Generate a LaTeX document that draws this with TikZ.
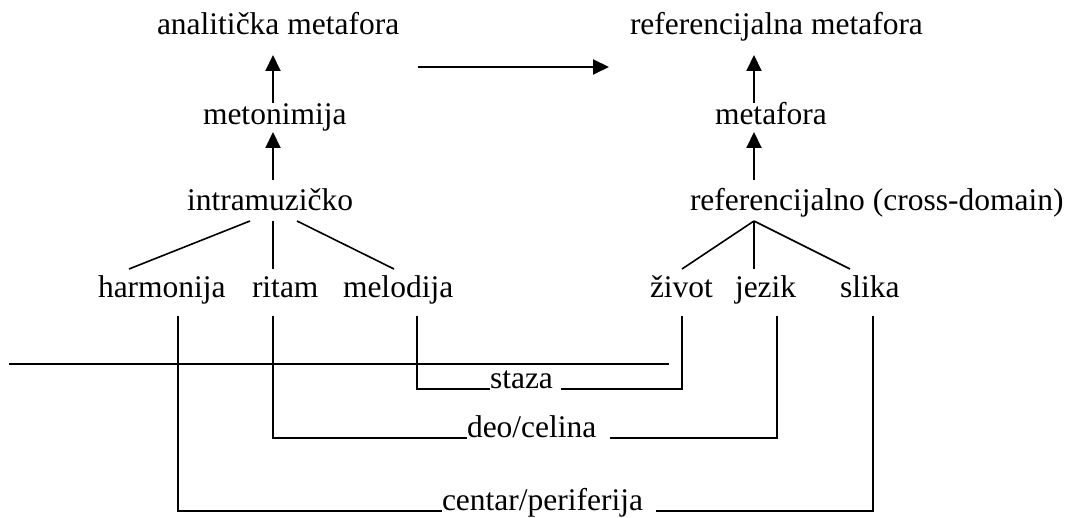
\documentclass[tikz,border=0pt]{standalone}
\usepackage{fontspec}
\setmainfont{Liberation Serif}
\usetikzlibrary{arrows.meta}
\begin{document}
\begin{tikzpicture}[x=1pt,y=-1pt,
  lbl/.style={anchor=base west,inner sep=0pt,outer sep=0pt,
    font=\fontsize{31.5}{36}\selectfont},
  arr/.style={line width=2pt,-{Triangle[length=16pt,width=15pt]}},
  branch/.style={line width=1.6pt},
  link/.style={line width=1.7pt}]
% canvas
\fill[white] (0,0) rectangle (1072,518);
\useasboundingbox (0,0) rectangle (1072,518);

% labels, row by row
\node[lbl] (am)   at (157,35)  {analitička metafora};
\node[lbl] (rm)   at (630,35)  {referencijalna metafora};
\node[lbl] (met)  at (203,125) {metonimija};
\node[lbl] (mf)   at (715,125) {metafora};
\node[lbl] (intr) at (187,211) {intramuzičko};
\node[lbl] (ref)  at (690,211) {referencijalno (cross-domain)};
\node[lbl] (harm) at (98,298)  {harmonija};
\node[lbl] (rit)  at (252,298) {ritam};
\node[lbl] (mel)  at (343,298) {melodija};
\node[lbl] (ziv)  at (650,298) {život};
\node[lbl] (jez)  at (735,298) {jezik};
\node[lbl] (sli)  at (840,298) {slika};
\node[lbl] (staza) at (490,389) {staza};
\node[lbl] (deo)   at (467,438) {deo/celina};
\node[lbl] (cp)    at (442,511) {centar/periferija};

% arrow end points
\coordinate (am-in)   at (273,55);
\coordinate (met-out) at (273,103);
\coordinate (met-in)  at (273,132);
\coordinate (intr-out) at (273,180);
\coordinate (rm-in)   at (754,55);
\coordinate (mf-out)  at (754,103);
\coordinate (mf-in)   at (754,132);
\coordinate (ref-out) at (754,180);
\coordinate (am-right) at (418,67);
\coordinate (rm-left)  at (609,67);

\draw[arr] (met-out) -- (am-in);
\draw[arr] (intr-out) -- (met-in);
\draw[arr] (mf-out) -- (rm-in);
\draw[arr] (ref-out) -- (mf-in);
\draw[arr] (am-right) -- (rm-left);

% tree branches
\coordinate (intr-l) at (250,221);
\coordinate (intr-m) at (273,221);
\coordinate (intr-r) at (297,221);
\coordinate (harm-top) at (129,269);
\coordinate (rit-top)  at (273,269);
\coordinate (mel-top)  at (394,269);
\coordinate (ref-apex) at (754,221);
\coordinate (ziv-top)  at (682,269);
\coordinate (jez-top)  at (754,269);
\coordinate (sli-top)  at (850,269);

\draw[branch] (intr-l) -- (harm-top);
\draw[branch] (intr-m) -- (rit-top);
\draw[branch] (intr-r) -- (mel-top);
\draw[branch] (ref-apex) -- (ziv-top);
\draw[branch] (ref-apex) -- (jez-top);
\draw[branch] (ref-apex) -- (sli-top);

% feet under the lower row
\coordinate (harm-foot) at (178,316);
\coordinate (rit-foot)  at (273,316);
\coordinate (mel-foot)  at (417,316);
\coordinate (ziv-foot)  at (682,316);
\coordinate (jez-foot)  at (777,316);
\coordinate (sli-foot)  at (873,316);

% bracket links through the relation labels
\draw[link] (mel-foot) |- (staza.base west);
\draw[link] ([xshift=8pt]staza.base east) -| (ziv-foot);
\draw[link] (rit-foot) |- (deo.base west);
\draw[link] ([xshift=14pt]deo.base east) -| (jez-foot);
\draw[link] (harm-foot) |- (cp.base west);
\draw[link] ([xshift=13pt]cp.base east) -| (sli-foot);

% long horizontal rule
\coordinate (rule-l) at (9,364);
\coordinate (rule-r) at (669,364);
\draw[link] (rule-l) -- (rule-r);
\end{tikzpicture}
\end{document}
